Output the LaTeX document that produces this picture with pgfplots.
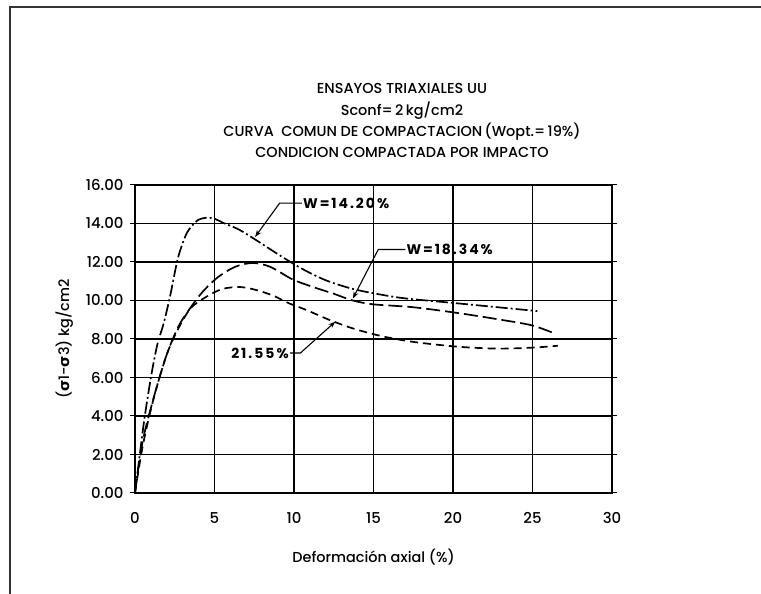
\documentclass[border=0pt]{standalone}
\usepackage{pgfplots}
\pgfplotsset{compat=1.18}
\usepackage{fontspec}
\setmainfont{Poppins Medium}
\newfontfamily\annfont{Poppins}[LetterSpace=14]
\newfontfamily\dejavu{DejaVu Sans}
\usetikzlibrary{arrows.meta}
\begin{document}
\begin{tikzpicture}[x=1bp,y=1bp]
\path[use as bounding box] (0,0) rectangle (761,594);
\draw[line width=1.3bp,black!80] (10,0) -- (10,587) -- (761,587);
\begin{axis}[
  at={(135bp,101bp)}, anchor=south west,
  scale only axis, width=477bp, height=308bp,
  xmin=0, xmax=30, ymin=0, ymax=16,
  xtick={0,5,...,30}, ytick={0,2,...,16},
  grid=major, major grid style={black, line width=1.2bp},
  axis line style={black, line width=1.5bp},
  tick style={black, line width=1bp},
  xtick style={draw=none},
  ytick align=outside, major tick length=5bp,
  /pgf/number format/assume math mode=true,
  yticklabel={\pgfmathprintnumber[fixed,fixed zerofill,precision=2]{\tick}},
  xticklabel style={font=\fontsize{15}{17}\selectfont, yshift=-16bp},
  yticklabel style={font=\fontsize{15}{17}\selectfont, xshift=-3bp},
  xlabel={Deformación axial (\%)},
  ylabel={({\dejavu\bfseries σ}1-{\dejavu\bfseries σ}3) kg/cm2},
  label style={font=\fontsize{14.5}{17}\selectfont},
  xlabel style={yshift=-18bp},
  ylabel style={yshift=6bp},
  clip=false,
]
\addplot[black, line width=1.7bp, dash pattern=on 12bp off 3bp on 2bp off 3bp, smooth, tension=0.5] coordinates {
(0,0) (0.3,2.0) (0.6,3.9) (1,6.0) (1.4,7.7) (1.8,8.8) (2.2,10.2) (2.7,12.2) (3.2,13.4) (3.6,13.9) (4,14.2) (4.5,14.3) (5,14.25) (5.5,14.05) (6.5,13.7) (7.5,13.2) (9,12.4) (10.5,11.65) (12,11.05) (13.7,10.6) (15.5,10.3) (17.1,10.1) (20.3,9.85) (25.3,9.45)};
\addplot[black, line width=1.7bp, dash pattern=on 14bp off 5bp, smooth, tension=0.5] coordinates {
(0,0) (0.5,2.75) (1.26,5.2) (2,7.2) (2.7,8.6) (3.3,9.4) (4.2,10.4) (5.2,11.2) (6.3,11.75) (7.4,11.95) (8.5,11.75) (9.9,11.1) (11.2,10.7) (12.5,10.35) (13.7,10.0) (15,9.8) (17.5,9.65) (20.3,9.35) (23,9.0) (25,8.7) (26.5,8.25)};
\addplot[black, line width=1.7bp, dash pattern=on 8bp off 5bp, smooth, tension=0.5] coordinates {
(0,0) (0.5,2.5) (1.2,5.0) (2,7.2) (2.7,8.5) (3.5,9.6) (4.5,10.2) (5.5,10.6) (6.6,10.7) (7.6,10.55) (8.7,10.25) (9.7,9.85) (10.8,9.5) (12.2,9.0) (13.7,8.55) (15.5,8.15) (17.5,7.85) (20.3,7.6) (22.8,7.5) (25,7.55) (26.6,7.65)};
% annotations
\draw[line width=1.1bp, -{Stealth[length=7bp,width=5bp]}] (axis cs:10.5,15.06) -- (axis cs:9.1,15.06) -- (axis cs:7.55,13.3);
\node[anchor=west, font=\fontsize{14}{16}\annfont\bfseries, inner sep=1bp] at (axis cs:10.5,15.06) {W=14.20\,\%};
\draw[line width=1.1bp, -{Stealth[length=7bp,width=5bp]}] (axis cs:17.0,12.65) -- (axis cs:15.3,12.65) -- (axis cs:13.7,10.1);
\node[anchor=west, font=\fontsize{14}{16}\annfont\bfseries, inner sep=1bp] at (axis cs:17.0,12.65) {W=18.34\%};
\draw[line width=1.1bp, -{Stealth[length=7bp,width=5bp]}] (axis cs:9.75,7.27) -- (axis cs:10.4,7.27) -- (axis cs:12.6,8.9);
\node[anchor=east, font=\fontsize{14}{16}\annfont\bfseries, inner sep=1bp] at (axis cs:9.75,7.27) {21.55\,\%};
\end{axis}
\node[align=center, font=\fontsize{14.5}{21.5}\selectfont, anchor=north] at (402,514) {ENSAYOS TRIAXIALES UU\\Sconf=\,2\,kg/cm2\\CURVA\ \ COMUN DE COMPACTACION\,(Wopt.=\,19\%)\\CONDICION COMPACTADA POR IMPACTO};
\end{tikzpicture}
\end{document}
